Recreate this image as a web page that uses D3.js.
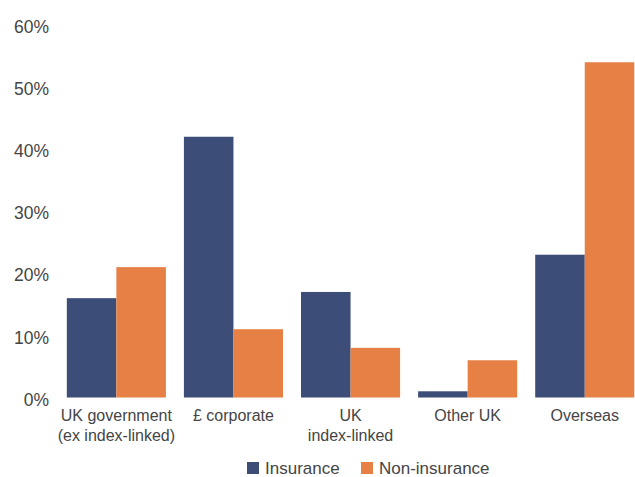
<!DOCTYPE html>
<html>
<head>
<meta charset="utf-8">
<script src="https://cdn.jsdelivr.net/npm/d3@7"></script>
<style>
  html, body { margin: 0; padding: 0; background: #fff; }
  svg { display: block; }
  text { font-family: "Liberation Sans", Arial, sans-serif; fill: #454545; }
</style>
</head>
<body>
<svg id="chart" width="635" height="477"></svg>
<script>
// Asset allocation by category (% of holdings)
const categories = [
  ["UK government", "(ex index-linked)"],
  ["£ corporate"],
  ["UK", "index-linked"],
  ["Other UK"],
  ["Overseas"]
];
const seriesNames = ["Insurance", "Non-insurance"];
const insurance = [16, 42, 17, 1, 23];
const nonInsurance = [21, 11, 8, 6, 54];
const yTicks = [0, 10, 20, 30, 40, 50, 60];
const colors = ["#3c4d77", "#e68045"];

const svg = d3.select("#chart");

const y = d3.scaleLinear().domain([0, 60]).range([397.5, 25]);

const groupKeys = categories.map((c, i) => i);
const x0 = d3.scaleBand()
  .domain(groupKeys)
  .range([57.8, 643.3])
  .paddingInner(18 / 117)
  .paddingOuter(9 / 117);

const x1 = d3.scaleBand()
  .domain([0, 1])
  .range([0, x0.bandwidth()]);

// Y axis labels (no axis line or gridlines)
const yAxis = d3.axisLeft(y)
  .tickValues(yTicks)
  .tickFormat(d => d + "%")
  .tickSize(0)
  .tickPadding(0);

const yg = svg.append("g")
  .attr("transform", "translate(49,2)")
  .call(yAxis);
yg.select(".domain").remove();
yg.selectAll("text")
  .attr("font-size", 17.5)
  .attr("font-family", null)
  .style("fill", "#454545");

// Bars
const groups = svg.append("g")
  .selectAll("g")
  .data(groupKeys)
  .join("g")
  .attr("transform", i => `translate(${x0(i)},0)`);

groups.selectAll("rect")
  .data(i => [insurance[i], nonInsurance[i]].map((v, s) => ({ v, s })))
  .join("rect")
  .attr("x", d => x1(d.s))
  .attr("width", x1.bandwidth())
  .attr("y", d => y(d.v))
  .attr("height", d => y(0) - y(d.v))
  .attr("fill", d => colors[d.s]);

// Category labels
groups.append("text")
  .attr("x", x0.bandwidth() / 2)
  .attr("text-anchor", "middle")
  .attr("font-size", 16)
  .selectAll("tspan")
  .data(i => categories[i])
  .join("tspan")
  .attr("x", x0.bandwidth() / 2)
  .attr("y", (d, k) => 421 + k * 19.5)
  .text(d => d);

// Legend
const legend = svg.append("g").attr("transform", "translate(247,462)");
const legendX = [0, 114];
seriesNames.forEach((name, s) => {
  const g = legend.append("g").attr("transform", `translate(${legendX[s]},0)`);
  g.append("rect")
    .attr("width", 12)
    .attr("height", 12)
    .attr("fill", colors[s]);
  g.append("text")
    .attr("x", 18)
    .attr("y", 12)
    .attr("font-size", 17)
    .text(name);
});
</script>
</body>
</html>
